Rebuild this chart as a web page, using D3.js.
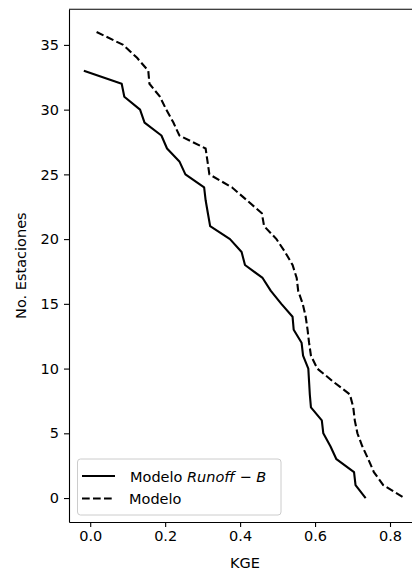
<!DOCTYPE html>
<html>
<head>
<meta charset="utf-8">
<script src="https://cdn.jsdelivr.net/npm/d3@7"></script>
<style>
  html, body { margin: 0; padding: 0; background: #fff; }
  svg { display: block; }
  text { font-family: "DejaVu Sans", sans-serif; fill: #000; }
</style>
</head>
<body>
<svg id="chart" width="412" height="570"></svg>
<script>
// Number of stations reaching each KGE value (cumulative curves)
const stationsRunoffB = [33, 32, 31, 30, 29, 28, 27, 26, 25, 24, 23, 22, 21, 20, 19, 18, 17,
  16, 15, 14, 13, 12, 11, 10, 9, 8, 7, 6, 5, 4, 3, 2, 1, 0];
const kgeRunoffB = [-0.017, 0.084, 0.091, 0.133, 0.145, 0.190, 0.205, 0.238, 0.254, 0.304,
  0.308, 0.314, 0.320, 0.373, 0.404, 0.413, 0.460, 0.482, 0.510, 0.540, 0.543, 0.564,
  0.568, 0.582, 0.584, 0.586, 0.589, 0.618, 0.622, 0.641, 0.657, 0.704, 0.708, 0.735];

const stationsModelo = [36, 35, 34, 33, 32, 31, 30, 29, 28, 27, 26, 25, 24, 23, 22, 21, 20,
  19, 18, 17, 16, 15, 14, 13, 12, 11, 10, 9, 8, 7, 6, 5, 4, 3, 2, 1, 0];
const kgeModelo = [0.017, 0.088, 0.125, 0.155, 0.158, 0.186, 0.203, 0.222, 0.238, 0.308,
  0.313, 0.318, 0.378, 0.418, 0.458, 0.464, 0.497, 0.520, 0.540, 0.551, 0.555, 0.567,
  0.575, 0.580, 0.584, 0.589, 0.606, 0.648, 0.693, 0.702, 0.706, 0.713, 0.726, 0.742,
  0.757, 0.782, 0.838];

const xTicks = [0.0, 0.2, 0.4, 0.6, 0.8];
const yTicks = [0, 5, 10, 15, 20, 25, 30, 35];
const xLabel = "KGE";
const yLabel = "No. Estaciones";

(function draw() {
  const svg = d3.select("#chart");
  const fontSize = 14.5;

  // Plot area (the right-hand side extends past the visible width)
  const plotLeft = 69, plotRight = 421, plotTop = 9.3, plotBottom = 522;

  const x = d3.scaleLinear().domain([-0.0566, 0.8827]).range([plotLeft, plotRight]);
  const y = d3.scaleLinear().domain([-1.85, 37.75]).range([plotBottom, plotTop]);

  // Axes
  const xAxis = d3.axisBottom(x).tickValues(xTicks).tickFormat(d3.format(".1f"))
    .tickSize(5).tickSizeOuter(0).tickPadding(4);
  const yAxis = d3.axisLeft(y).tickValues(yTicks).tickFormat(d3.format("d"))
    .tickSize(5).tickSizeOuter(0).tickPadding(5);

  const gx = svg.append("g").attr("transform", `translate(0,${plotBottom})`).call(xAxis);
  const gy = svg.append("g").attr("transform", `translate(${plotLeft},0)`).call(yAxis);

  [gx, gy].forEach(g => {
    g.selectAll("path.domain").attr("stroke", "#000").attr("stroke-width", 1.1);
    g.selectAll(".tick line").attr("stroke", "#000").attr("stroke-width", 1.1);
    g.selectAll(".tick text")
      .style("font-family", '"DejaVu Sans", sans-serif')
      .style("font-size", fontSize + "px")
      .attr("fill", "#222");
  });

  // Top and right spines
  svg.append("line").attr("x1", plotLeft).attr("x2", plotRight)
    .attr("y1", plotTop).attr("y2", plotTop)
    .attr("stroke", "#000").attr("stroke-width", 1.1);
  svg.append("line").attr("x1", plotRight).attr("x2", plotRight)
    .attr("y1", plotTop).attr("y2", plotBottom)
    .attr("stroke", "#000").attr("stroke-width", 1.1);

  // Axis labels
  svg.append("text")
    .attr("x", (plotLeft + plotRight) / 2).attr("y", 567.5)
    .attr("text-anchor", "middle")
    .style("font-size", fontSize + "px")
    .attr("fill", "#222")
    .text(xLabel);

  svg.append("text")
    .attr("transform", `translate(25.5,${(plotTop + plotBottom) / 2}) rotate(-90)`)
    .attr("text-anchor", "middle")
    .style("font-size", fontSize + "px")
    .attr("fill", "#222")
    .text(yLabel);

  // Curves
  const line = d3.line().x(d => x(d[0])).y(d => y(d[1]));

  const dataRunoffB = kgeRunoffB.map((k, i) => [k, stationsRunoffB[i]]);
  const dataModelo = kgeModelo.map((k, i) => [k, stationsModelo[i]]);

  svg.append("path").datum(dataRunoffB)
    .attr("d", line)
    .attr("fill", "none")
    .attr("stroke", "#000")
    .attr("stroke-width", 2.1)
    .attr("stroke-linejoin", "round");

  svg.append("path").datum(dataModelo)
    .attr("d", line)
    .attr("fill", "none")
    .attr("stroke", "#000")
    .attr("stroke-width", 2.1)
    .attr("stroke-dasharray", "7.7,3.3");

  // Legend
  const lg = svg.append("g");
  lg.append("rect")
    .attr("x", 77.5).attr("y", 459).attr("width", 203.5).attr("height", 56)
    .attr("rx", 3).attr("ry", 3)
    .attr("fill", "#fff").attr("fill-opacity", 0.8)
    .attr("stroke", "#cccccc").attr("stroke-width", 1);

  lg.append("line").attr("x1", 82).attr("x2", 115).attr("y1", 476).attr("y2", 476)
    .attr("stroke", "#000").attr("stroke-width", 2.1);
  lg.append("line").attr("x1", 82).attr("x2", 115).attr("y1", 498.5).attr("y2", 498.5)
    .attr("stroke", "#000").attr("stroke-width", 2.1).attr("stroke-dasharray", "7.7,3.3");

  const t1 = lg.append("text").attr("x", 130).attr("y", 481.5)
    .style("font-size", fontSize + "px").attr("fill", "#222");
  t1.append("tspan").text("Modelo ");
  t1.append("tspan").style("font-style", "italic").text("Runoff");
  t1.append("tspan").text(" \u2212 ");
  t1.append("tspan").style("font-style", "italic").text("B");

  lg.append("text").attr("x", 129).attr("y", 504)
    .style("font-size", fontSize + "px").attr("fill", "#222")
    .text("Modelo");
})();
</script>
</body>
</html>
